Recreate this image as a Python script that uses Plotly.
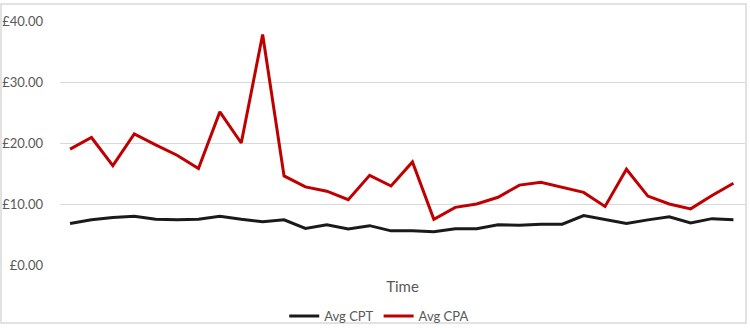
import plotly.graph_objects as go

periods = list(range(32))
avg_cpt = [6.8, 7.4, 7.8, 8.0, 7.5, 7.4, 7.5, 8.0, 7.5, 7.1, 7.4, 6.0, 6.6, 5.9, 6.45, 5.6,
           5.6, 5.45, 5.95, 5.95, 6.6, 6.5, 6.7, 6.7, 8.1, 7.5, 6.8, 7.4, 7.9, 6.9, 7.6, 7.4]
avg_cpa = [19.0, 20.9, 16.3, 21.5, 19.7, 18.0, 15.8, 25.1, 20.0, 37.8, 14.6, 12.8, 12.1, 10.7,
           14.7, 12.95, 16.9, 7.5, 9.45, 10.0, 11.1, 13.1, 13.55, 12.7, 11.9, 9.6, 15.7, 11.3,
           10.0, 9.2, 11.4, 13.4]
y_ticks = [0, 10, 20, 30, 40]
y_tick_labels = ["£0.00", "£10.00", "£20.00", "£30.00", "£40.00"]

font_family = "Lato, Carlito, 'Open Sans', sans-serif"
text_color = "#595959"

fig = go.Figure()
fig.add_trace(go.Scatter(x=periods, y=avg_cpt, name="Avg CPT", mode="lines",
                         line=dict(color="#1a1a1a", width=3)))
fig.add_trace(go.Scatter(x=periods, y=avg_cpa, name="Avg CPA", mode="lines",
                         line=dict(color="#c00000", width=3)))

fig.update_layout(
    width=750, height=328,
    margin=dict(l=60, r=5, t=21, b=63, autoexpand=False),
    paper_bgcolor="white", plot_bgcolor="white",
    font=dict(family=font_family, size=13, color=text_color),
    showlegend=True,
    legend=dict(orientation="h", x=0.466, xanchor="center", y=-0.148, yanchor="top",
                font=dict(size=13, color=text_color), bgcolor="rgba(0,0,0,0)",
                itemwidth=30),
    shapes=[dict(type="rect", xref="paper", yref="paper",
                 x0=-59/685, x1=686/685, y0=-58/244, y1=1 + 17/244,
                 line=dict(color="#d9d9d9", width=1.5), layer="below")],
)
fig.update_xaxes(range=[-0.47, 31.54], showticklabels=False, showgrid=False,
                 zeroline=False, showline=False, ticks="", automargin=False,
                 title=dict(text="Time", font=dict(size=15, color=text_color), standoff=16))
fig.update_yaxes(range=[0, 40], tickvals=y_ticks, ticktext=y_tick_labels,
                 showgrid=True, gridcolor="#d9d9d9", gridwidth=1, zeroline=False,
                 showline=False, ticks="", ticklabelstandoff=16, automargin=False,
                 tickfont=dict(size=13, color=text_color))

fig.write_html("out.html")
